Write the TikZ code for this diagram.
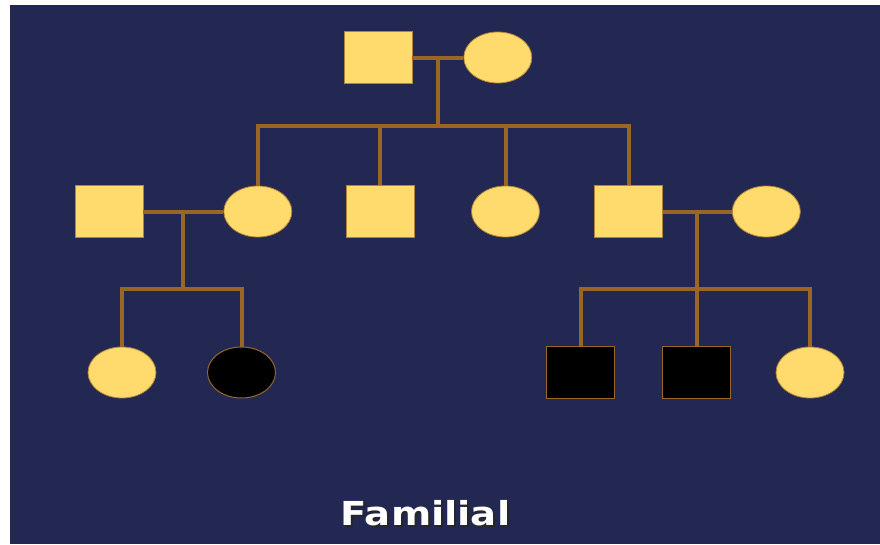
\documentclass[tikz,border=0pt]{standalone}
\usepackage{fontspec}
\setmainfont{DejaVu Sans}
\newfontfamily\widefont{DejaVu Sans}[FakeStretch=1.17]
\usetikzlibrary{shapes.geometric,positioning,calc}

\definecolor{navy}{RGB}{34,40,82}
\definecolor{gold}{RGB}{255,219,110}
\definecolor{rope}{RGB}{153,102,38}

\begin{document}
\begin{tikzpicture}[x=1pt, y=-1pt,
    male/.style={rectangle, draw=rope!75!gold, fill=gold, line width=0.8pt,
                 minimum width=68pt, minimum height=52pt, inner sep=0pt},
    female/.style={ellipse, draw=rope!75!gold, fill=gold, line width=0.8pt,
                   minimum width=68pt, minimum height=51pt, inner sep=0pt},
    sick/.style={fill=black, draw=rope, line width=1pt},
    link/.style={draw=rope, line width=4pt},
    caption/.style={font=\widefont\bfseries\fontsize{33}{40}\selectfont, anchor=base}]
                \useasboundingbox (0,0) rectangle (880,544);
                \fill[navy] (10,5) rectangle (880,544);

                % grandparents
                \node[male]          (g1) at (378,57.5)      {};
                \node[female]        (g2) [right=51pt of g1] {};

                % second generation
                \node[male]          (a1) at (109,211.5)     {};
                \node[female]        (a2) [right=80pt of a1] {};
                \node[male]          (b)  at (380,211.5)     {};
                \node[female]        (c)  at (505.5,211.5)   {};
                \node[male]          (d1) at (628.5,211.5)   {};
                \node[female]        (d2) [right=69pt of d1] {};

                % grandchildren
                \node[female]        (e1) at (122,372.5)     {};
                \node[female,sick]   (e2) at (241.5,372.5)   {};
                \node[male,sick]     (f1) at (580.5,372.5)   {};
                \node[male,sick]     (f2) [right=47pt of f1] {};
                \node[female]        (f3) at (810,372.5)     {};

                % couples and their children
                \path[link] (g1) -- (g2);
                \coordinate (gm) at ($(g1.east)!.5!(g2.west)$);
                \draw[link] (gm) -- ++(0,68.5) coordinate (gs);
                \draw[link] (a2.north) -- (a2.north |- gs) -- (d1.north |- gs) -- (d1.north);
                \draw[link] (b.north) -- (b.north |- gs);
                \draw[link] (c.north) -- (c.north |- gs);

                \path[link] (a1) -- (a2);
                \coordinate (am) at ($(a1.east)!.5!(a2.west)$);
                \draw[link] (am) -- ++(0,77.5) coordinate (as);
                \draw[link] (e1.north) -- (e1.north |- as) -- (e2.north |- as) -- (e2.north);

                \path[link] (d1) -- (d2);
                \coordinate (dm) at ($(d1.east)!.5!(d2.west)$);
                \draw[link] (dm) -- ++(0,77.5) coordinate (ds);
                \draw[link] (f1.north) -- (f1.north |- ds) -- (f3.north |- ds) -- (f3.north);
                \draw[link] (f2.north) -- (f2.north |- ds);

                % title with its drop shadow
                \node[caption, text=black!85] (shade) at (427.5,527) {Familial};
                \node[caption, text=white]    (title) at (425.5,525) {Familial};
            \end{tikzpicture}
\end{document}
